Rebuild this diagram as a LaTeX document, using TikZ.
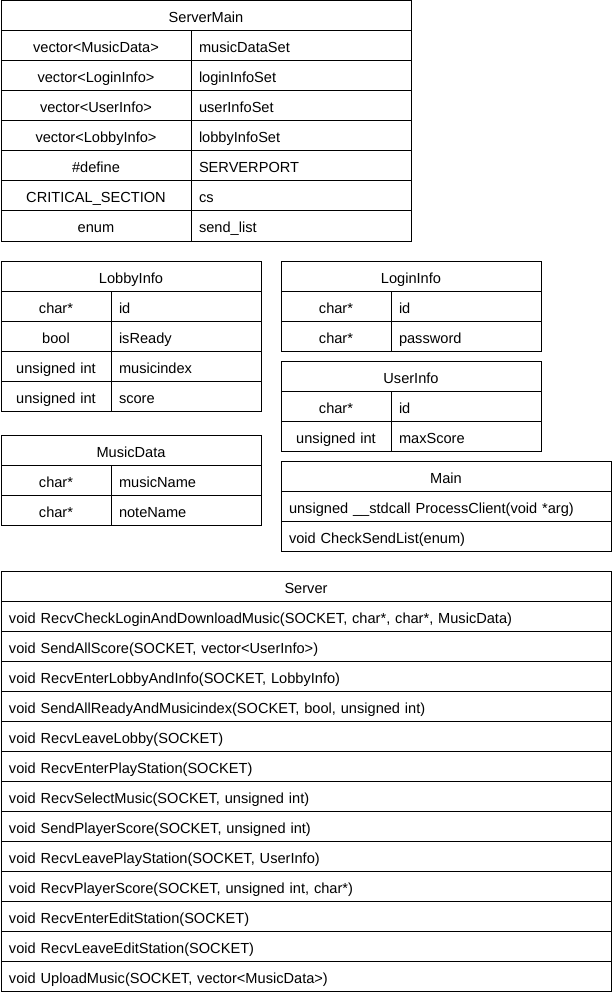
\documentclass[tikz,border=0pt]{standalone}
\usepackage{fontspec}
\setmainfont{Liberation Sans}
\begin{document}
\begin{tikzpicture}[x=1pt,y=-1pt,
    cell/.style={draw, line width=1pt, anchor=north west, minimum height=30pt,
      inner xsep=8pt, inner ysep=0pt, text height=14pt, text depth=0pt,
      font=\fontsize{14.6}{18}\selectfont},
    ccell/.style={cell, align=center},
    lcell/.style={cell, align=left}]
  \useasboundingbox (0,0) rectangle (611,992);
  \begin{scope}[shift={(0.5,0.5)}]
    \node[ccell, text width=394pt] (servermain) at (0,0) {ServerMain};
    \foreach \t/\n [count=\i] in {vector<MusicData>/musicDataSet,
        vector<LoginInfo>/loginInfoSet, vector<UserInfo>/userInfoSet,
        vector<LobbyInfo>/lobbyInfoSet, \#define/SERVERPORT,
        CRITICAL\_SECTION/cs, enum/send\_list} {
      \node[ccell, text width=174pt] (smtype\i) at (0,30*\i) {\t};
      \node[lcell, text width=204pt] (smname\i) at (190,30*\i) {\n};
    }

    \node[ccell, text width=244pt] (lobbyinfo) at (0,260) {LobbyInfo};
    \foreach \t/\n [count=\i] in {char*/id, bool/isReady,
        unsigned int/musicindex, unsigned int/score} {
      \node[ccell, text width=94pt] (litype\i) at (0,260+30*\i) {\t};
      \node[lcell, text width=134pt] (liname\i) at (110,260+30*\i) {\n};
    }

    \node[ccell, text width=244pt] (musicdata) at (0,434) {MusicData};
    \foreach \t/\n [count=\i] in {char*/musicName, char*/noteName} {
      \node[ccell, text width=94pt] (mdtype\i) at (0,434+30*\i) {\t};
      \node[lcell, text width=134pt] (mdname\i) at (110,434+30*\i) {\n};
    }

    \node[ccell, text width=244pt] (logininfo) at (280,260) {LoginInfo};
    \foreach \t/\n [count=\i] in {char*/id, char*/password} {
      \node[ccell, text width=94pt] (lgtype\i) at (280,260+30*\i) {\t};
      \node[lcell, text width=134pt] (lgname\i) at (390,260+30*\i) {\n};
    }

    \node[ccell, text width=244pt] (userinfo) at (280,360) {UserInfo};
    \foreach \t/\n [count=\i] in {char*/id, unsigned int/maxScore} {
      \node[ccell, text width=94pt] (uitype\i) at (280,360+30*\i) {\t};
      \node[lcell, text width=134pt] (uiname\i) at (390,360+30*\i) {\n};
    }

    \node[ccell, text width=314pt] (main) at (280,460) {Main};
    \foreach \f [count=\i] in {{unsigned \_\_stdcall ProcessClient(void *arg)},
        {void CheckSendList(enum)}} {
      \node[lcell, text width=314pt] (mainfunc\i) at (280,460+30*\i) {\f};
    }

    \node[ccell, text width=594pt] (server) at (0,570) {Server};
    \foreach \f [count=\i] in {
        {void RecvCheckLoginAndDownloadMusic(SOCKET, char*, char*, MusicData)},
        {void SendAllScore(SOCKET, vector<UserInfo>)},
        {void RecvEnterLobbyAndInfo(SOCKET, LobbyInfo)},
        {void SendAllReadyAndMusicindex(SOCKET, bool, unsigned int)},
        {void RecvLeaveLobby(SOCKET)},
        {void RecvEnterPlayStation(SOCKET)},
        {void RecvSelectMusic(SOCKET, unsigned int)},
        {void SendPlayerScore(SOCKET, unsigned int)},
        {void RecvLeavePlayStation(SOCKET, UserInfo)},
        {void RecvPlayerScore(SOCKET, unsigned int, char*)},
        {void RecvEnterEditStation(SOCKET)},
        {void RecvLeaveEditStation(SOCKET)},
        {void UploadMusic(SOCKET, vector<MusicData>)}} {
      \node[lcell, text width=594pt] (serverfunc\i) at (0,570+30*\i) {\f};
    }
  \end{scope}
\end{tikzpicture}
\end{document}
